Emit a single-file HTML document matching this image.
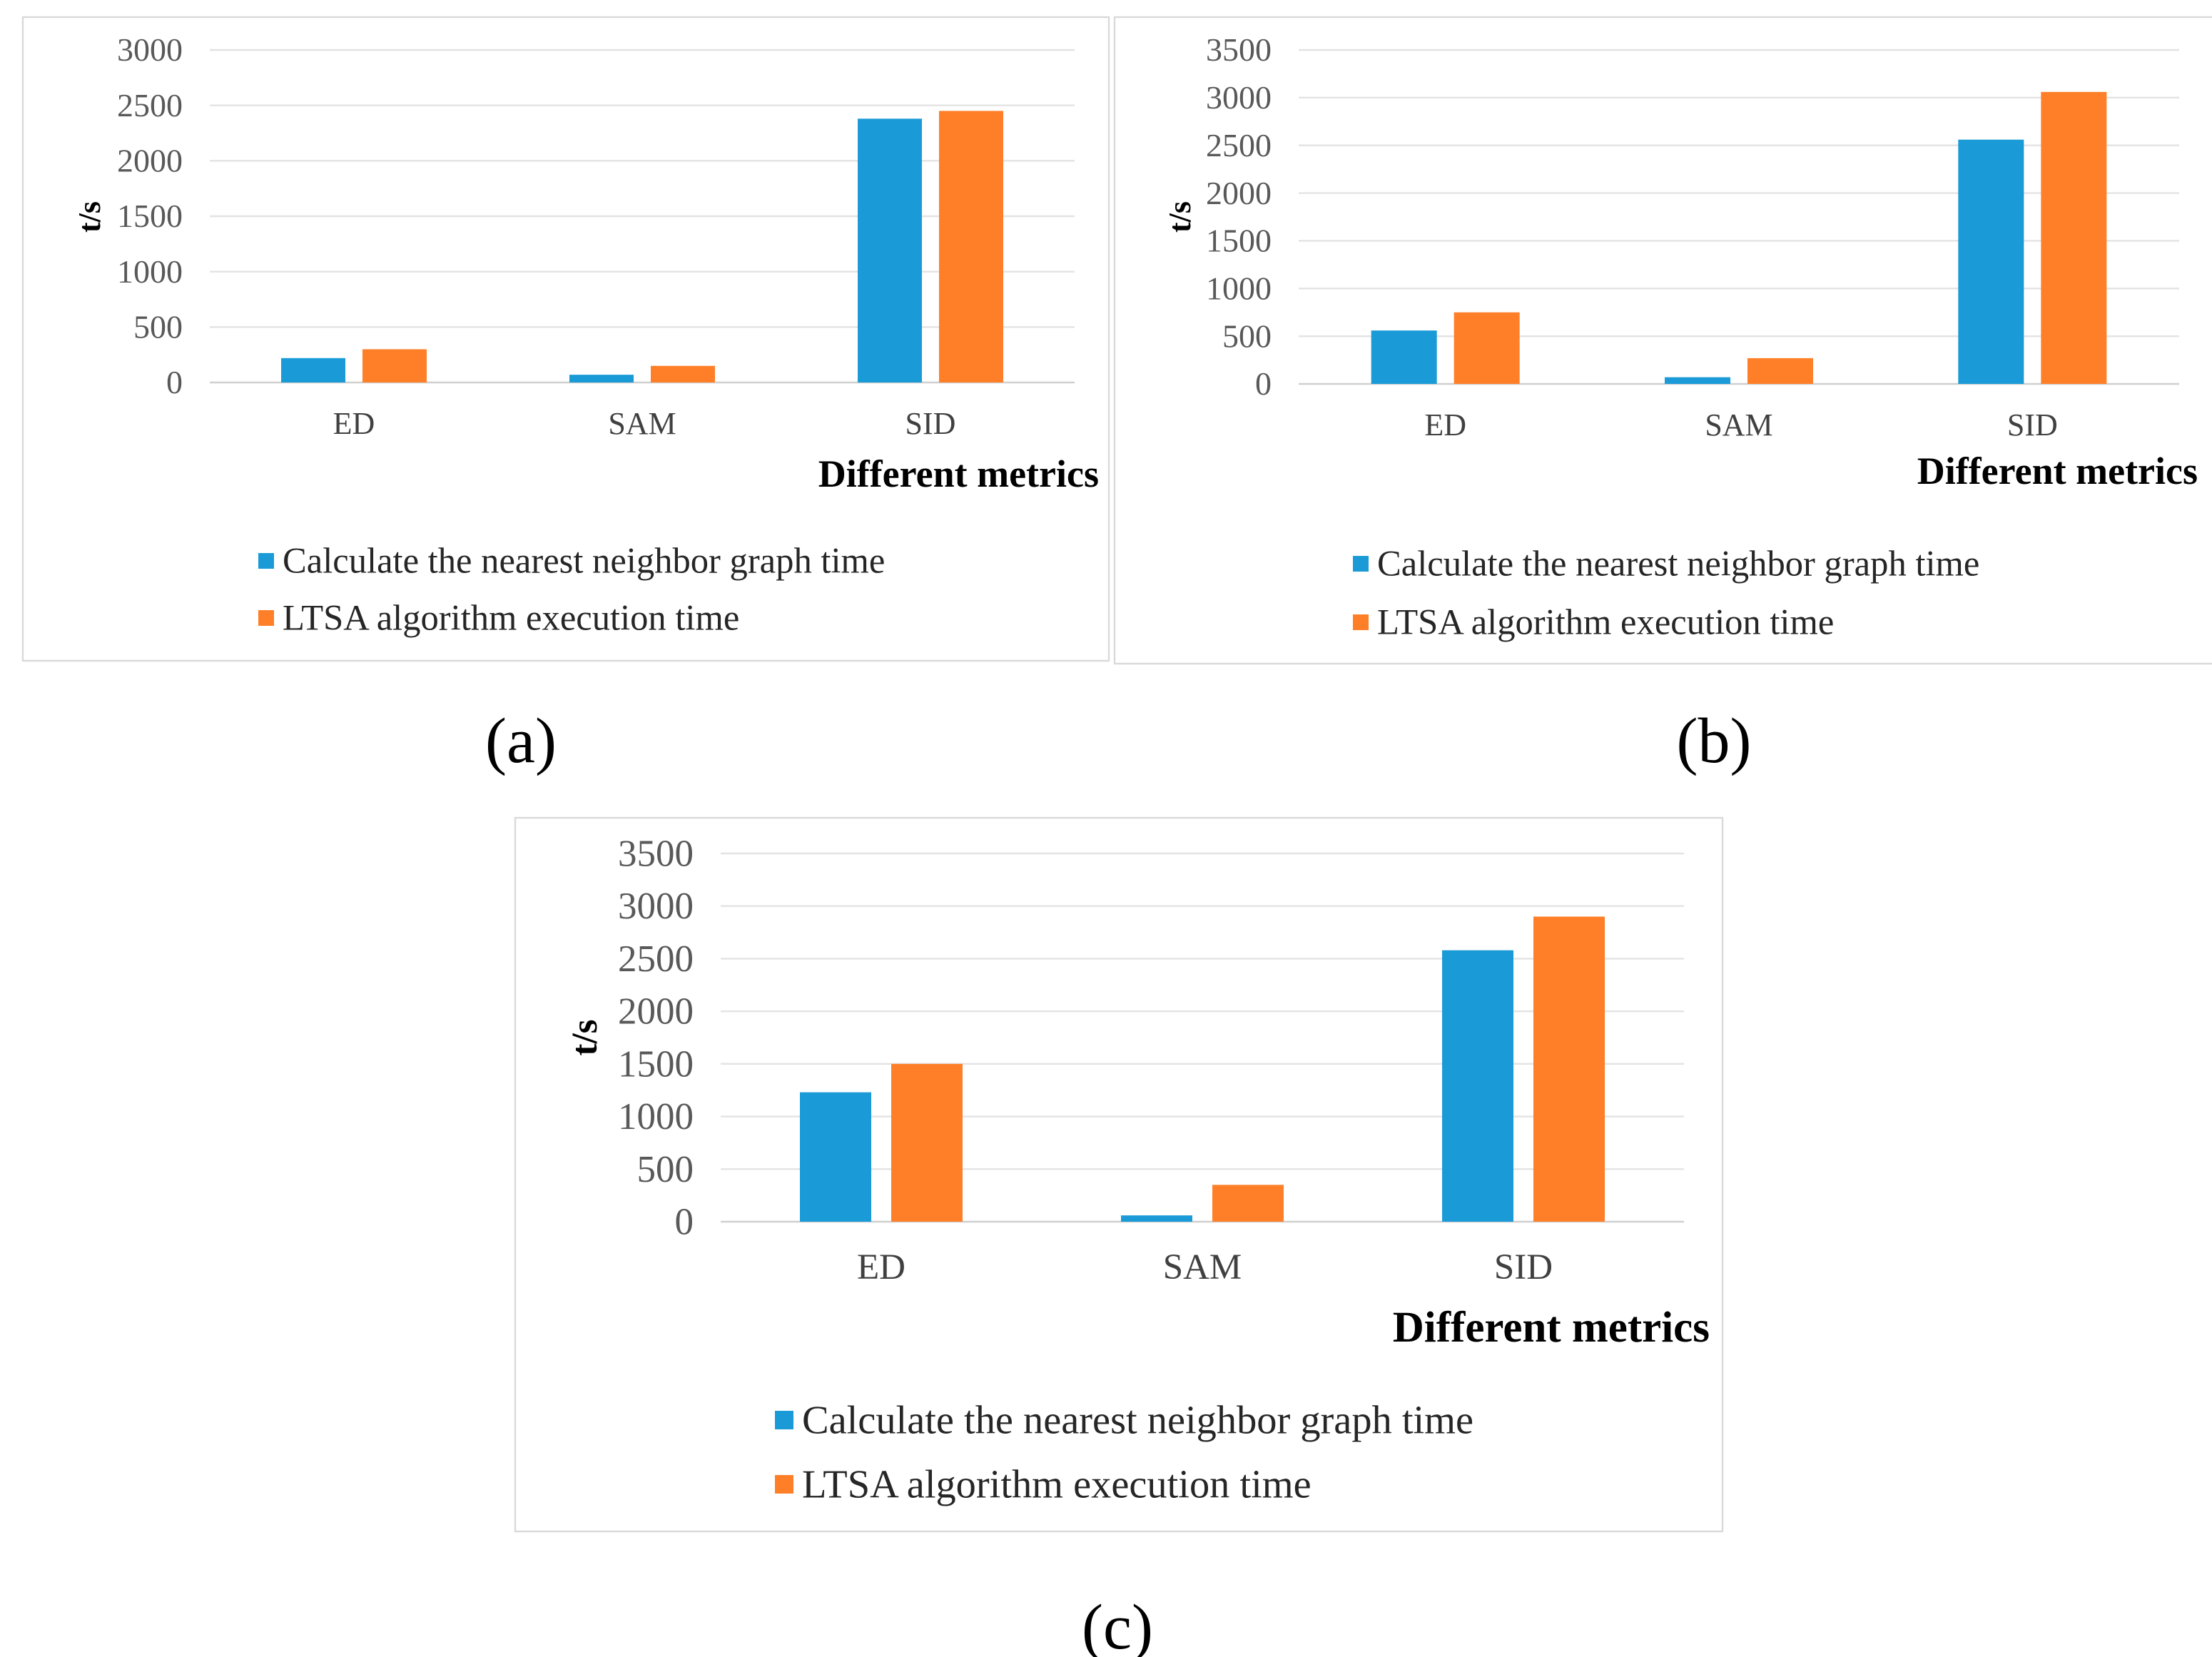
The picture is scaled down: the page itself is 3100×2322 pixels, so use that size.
<!DOCTYPE html>
<html><head><meta charset="utf-8"><style>
html,body{margin:0;padding:0;background:#fff;}
svg{display:block;font-family:"Liberation Serif",serif;}
</style></head><body>
<svg id="fig" width="3100" height="2322" viewBox="0 0 1550 1161" xmlns="http://www.w3.org/2000/svg"></svg>
<script>
const categories = ["ED","SAM","SID"];
const seriesNames = ["Calculate the nearest neighbor graph time","LTSA algorithm execution time"];
const aNeighbor = [220, 70, 2380];
const aLtsa = [300, 150, 2450];
const aTicks = [0,500,1000,1500,2000,2500,3000];
const bNeighbor = [560, 70, 2560];
const bLtsa = [750, 270, 3060];
const bTicks = [0,500,1000,1500,2000,2500,3000,3500];
const cNeighbor = [1230, 60, 2580];
const cLtsa = [1500, 350, 2900];
const cTicks = [0,500,1000,1500,2000,2500,3000,3500];

const NS="http://www.w3.org/2000/svg";
const svg=document.getElementById('fig');
function mk(tag,attrs,parent,text){const e=document.createElementNS(NS,tag);for(const k in attrs)e.setAttribute(k,attrs[k]);if(text!==undefined)e.textContent=text;(parent||svg).appendChild(e);return e;}
const colors=["#1a9bd7","#fe7f27"];

function panel(id,box,pl,ticks,s1,s2,lay){
  const g=mk('g',{});
  
  
  const r=mk('rect',{x:box[0],y:box[1],width:box[2],height:box[3],fill:'#fff',stroke:'#d9d9d9','stroke-width':1.2},g);
  
  
  const maxV=ticks[ticks.length-1];
  const y=v=>pl.y0-(v/maxV)*(pl.y0-pl.yTop);
  const catW=(pl.x1-pl.x0)/categories.length;
  const xc=i=>pl.x0+catW*(i+0.5);
  ticks.forEach(t=>{
    const l=mk('line',{x1:pl.x0,x2:pl.x1,y1:y(t),y2:y(t),stroke:t===0?'#d0d0d0':'#e3e3e3','stroke-width':1.2},g);
    
    
    const tx=mk('text',{x:pl.x0-19,y:y(t)+lay.tf*0.33,'text-anchor':'end','font-size':lay.tf,fill:'#595959'},g,String(t));
    
    
  });
  [s1,s2].forEach((s,si)=>{
    s.forEach((v,i)=>{
      const bx=xc(i)-lay.gap/2-lay.bw+si*(lay.bw+lay.gap);
      const b=mk('rect',{x:bx,y:y(v),width:lay.bw,height:pl.y0-y(v),fill:colors[si]},g);
      
      
    });
  });
  categories.forEach((c,i)=>{
    const t=mk('text',{x:xc(i),y:lay.catY,'text-anchor':'middle','font-size':lay.cf,fill:'#404040'},g,c);
    
    
  });
  const xt=mk('text',{x:lay.xtX,y:lay.xtY,'text-anchor':'end','font-size':lay.xf,'font-weight':'bold',fill:'#000'},g,'Different metrics');
  
  
  const yt=mk('text',{x:0,y:0,transform:`translate(${lay.ytX},${lay.ytY}) rotate(-90)`,'text-anchor':'middle','font-size':lay.cf,'font-weight':'bold',fill:'#000'},g,'t/s');
  
  
  seriesNames.forEach((n,i)=>{
    const ly=lay.legY[i];
    const sq=mk('rect',{x:lay.legX,y:ly-lay.sq/2,width:lay.sq,height:lay.sq,fill:colors[i]},g);
    
    
    const t=mk('text',{x:lay.legX+lay.sq+6,y:ly+lay.lf*0.33,'font-size':lay.lf,fill:'#262626'},g,n);
    
    
  });
  const cap=mk('text',{x:lay.capX,y:lay.capY,'text-anchor':'middle','font-size':45,fill:'#000'},g,'('+id+')');
  
  
}

panel('a',[16,12,761,451],{x0:147,x1:753,y0:268,yTop:35},aTicks,aNeighbor,aLtsa,
 {bw:45,gap:12,tf:23,cf:22,xf:27,lf:25.3,catY:304,xtX:770,xtY:341,ytX:70,ytY:152,legX:181,legY:[393,433],sq:11,capX:365,capY:534});
panel('b',[781,12,770,453],{x0:910,x1:1527,y0:269,yTop:35},bTicks,bNeighbor,bLtsa,
 {bw:46,gap:12,tf:23,cf:22,xf:27,lf:25.3,catY:305,xtX:1540,xtY:339,ytX:834,ytY:152,legX:948,legY:[395,436],sq:11,capX:1201,capY:534});
panel('c',[361,573,846,500],{x0:505,x1:1180,y0:856,yTop:598},cTicks,cNeighbor,cLtsa,
 {bw:50,gap:14,tf:26.5,cf:25.5,xf:30.5,lf:28.2,catY:896,xtX:1198,xtY:940,ytX:418,ytY:727,legX:543,legY:[995,1040],sq:13,capX:783,capY:1155});
</script>
</body></html>
